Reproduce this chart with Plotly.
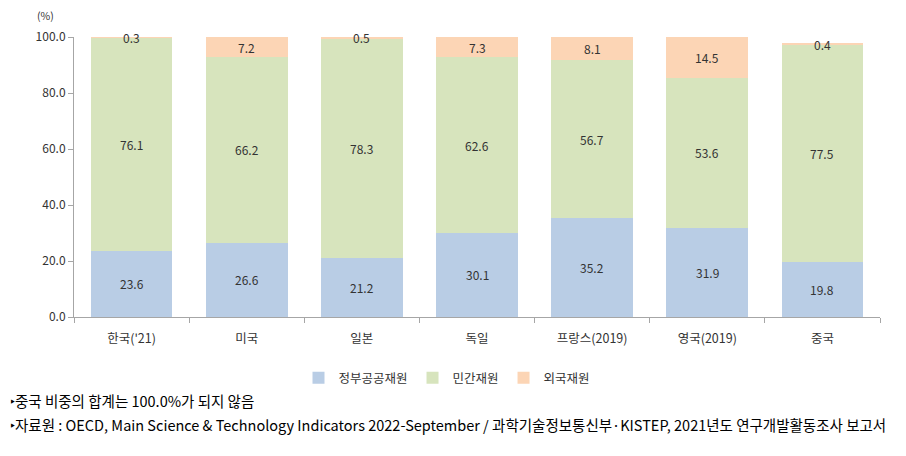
import plotly.graph_objects as go

categories = ["한국('21)", "미국", "일본", "독일", "프랑스(2019)", "영국(2019)", "중국"]
gov = [23.6, 26.6, 21.2, 30.1, 35.2, 31.9, 19.8]
private = [76.1, 66.2, 78.3, 62.6, 56.7, 53.6, 77.5]
foreign = [0.3, 7.2, 0.5, 7.3, 8.1, 14.5, 0.4]
series_names = ["정부공공재원", "민간재원", "외국재원"]
y_ticks = [0, 20, 40, 60, 80, 100]

colors = ["#B9CDE5", "#D7E4BD", "#FCD5B5"]
FONT = "Noto Sans CJK KR"
TXT = "#333333"

# page body has an 8px margin; work in window pixels
OFF = 8
PL, PR, PT, PB = 74, 880, 37, 317   # plot area in window pixels
W, H = 906 - OFF, 456 - OFF
PW, PH = PR - PL, PB - PT

def px_x(x):
    return (x - PL) / PW

def px_y(y):
    return (PB - y) / PH

fig = go.Figure()
for name, vals, col in zip(series_names, [gov, private, foreign], colors):
    fig.add_trace(go.Bar(x=categories, y=vals, name=name, marker_color=col,
                         marker_line_width=0, hoverinfo="skip"))

# data labels
for i, c in enumerate(categories):
    base = 0
    for vals in [gov, private, foreign]:
        v = vals[i]
        mid = base + v / 2
        fig.add_annotation(x=c, y=mid, text=f"{v:.1f}", showarrow=False,
                           font=dict(family=FONT, size=12, color=TXT),
                           xref="x", yref="y")
        base += v

fig.update_layout(
    barmode="stack",
    bargap=0.29,
    width=W, height=H,
    margin=dict(l=PL - OFF, r=906 - PR, t=PT - OFF, b=456 - PB),
    plot_bgcolor="white", paper_bgcolor="white",
    font=dict(family=FONT, size=12, color=TXT),
    legend=dict(orientation="h", x=px_x(447), xanchor="center", y=px_y(363), yanchor="top",
                font=dict(family=FONT, size=12.5, color=TXT),
                itemwidth=30, traceorder="normal"),
    xaxis=dict(showline=True, linecolor="#A6A6A6", linewidth=1,
               ticks="outside", tickson="boundaries", ticklen=5, tickcolor="#A6A6A6",
               ticklabelstandoff=10,
               tickfont=dict(family=FONT, size=12.5, color=TXT)),
    yaxis=dict(range=[0, 100], tickvals=y_ticks, ticktext=[f"{t:.1f}" for t in y_ticks],
               showgrid=False, zeroline=False, showline=True, linecolor="#A6A6A6",
               ticks="outside", ticklen=5, tickcolor="#A6A6A6",
               tickfont=dict(family=FONT, size=12, color=TXT)),
)

fig.add_annotation(x=px_x(45), y=px_y(15), xref="paper", yref="paper", text="(%)",
                   showarrow=False, xanchor="center", yanchor="middle",
                   font=dict(family=FONT, size=10.5, color=TXT))

fig.add_annotation(x=px_x(8), y=px_y(400), xref="paper", yref="paper",
                   xanchor="left", yanchor="middle", showarrow=False,
                   text="‣중국 비중의 합계는 100.0%가 되지 않음",
                   font=dict(family=FONT, size=14.5, color="#000000"))
fig.add_annotation(x=px_x(8), y=px_y(424), xref="paper", yref="paper",
                   xanchor="left", yanchor="middle", showarrow=False,
                   text="‣자료원 : OECD, Main Science & Technology Indicators 2022-September / 과학기술정보통신부·KISTEP, 2021년도 연구개발활동조사 보고서",
                   font=dict(family=FONT, size=14.5, color="#000000"))

fig.write_html("out.html")
